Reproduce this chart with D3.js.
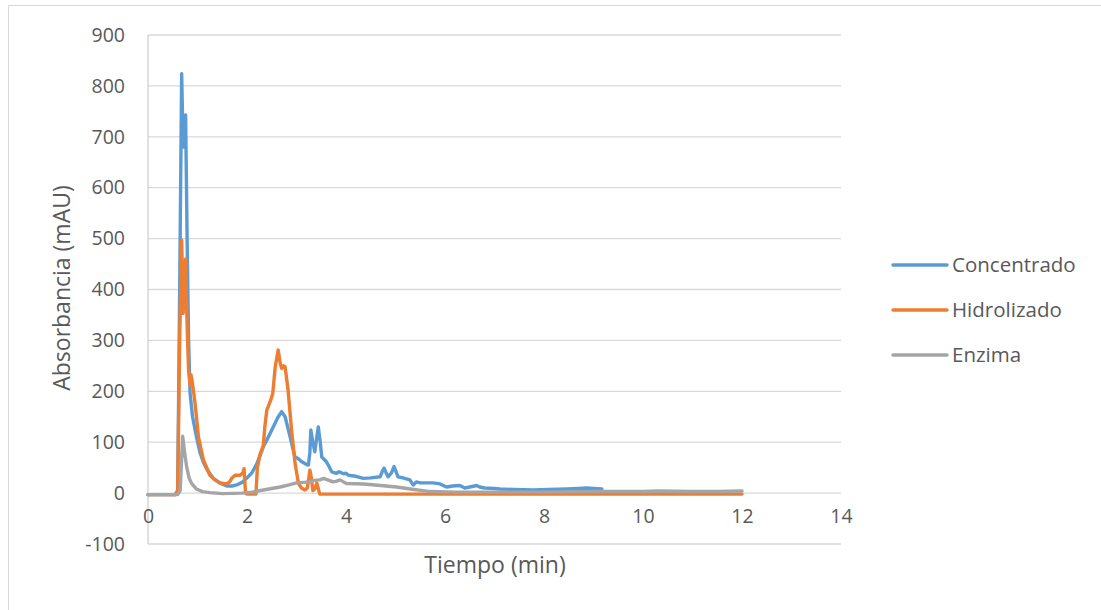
<!DOCTYPE html>
<html>
<head>
<meta charset="utf-8">
<script src="https://cdn.jsdelivr.net/npm/d3@7"></script>
<style>
  body { margin: 0; background: #fff; }
  text { font-family: "Open Sans", "Liberation Sans", sans-serif; fill: #595959; }
</style>
</head>
<body>
<svg id="chart" width="1101" height="610"></svg>
<script>
// series names as in the legend
var seriesNames = ["Concentrado", "Hidrolizado", "Enzima"];
var seriesColors = ["#5b9bd5", "#ed7d31", "#a5a5a5"];

// [tiempo (min), absorbancia (mAU)]
var concentrado = [
  [0, -3], [0.55, -3], [0.6, 5], [0.64, 400], [0.68, 824], [0.71, 680], [0.74, 720], [0.76, 743],
  [0.79, 500], [0.82, 300], [0.85, 196], [0.9, 150], [0.98, 110], [1.05, 80], [1.12, 60], [1.2, 45],
  [1.32, 29], [1.45, 20], [1.59, 14], [1.7, 14], [1.79, 16], [1.9, 21], [1.99, 29], [2.1, 40],
  [2.2, 58], [2.33, 91], [2.43, 110], [2.53, 130], [2.62, 148], [2.7, 160], [2.77, 150], [2.82, 130],
  [2.87, 111], [2.92, 90], [2.97, 71], [3.03, 68], [3.1, 62], [3.17, 58], [3.24, 55], [3.27, 80],
  [3.29, 124], [3.33, 100], [3.37, 81], [3.41, 110], [3.44, 130], [3.48, 100], [3.51, 71], [3.56, 66],
  [3.6, 62], [3.66, 52], [3.71, 42], [3.76, 40], [3.81, 39], [3.86, 42], [3.95, 38], [4.0, 39],
  [4.05, 35], [4.2, 33], [4.35, 29], [4.5, 30], [4.69, 32], [4.74, 44], [4.77, 49], [4.81, 40],
  [4.85, 32], [4.92, 40], [4.97, 52], [5.0, 45], [5.05, 32], [5.15, 30], [5.29, 26], [5.33, 20],
  [5.36, 16], [5.42, 22], [5.5, 20], [5.6, 20], [5.76, 20], [5.9, 18], [6.03, 12], [6.15, 14],
  [6.3, 15], [6.4, 10], [6.5, 12], [6.64, 15], [6.7, 12], [6.8, 10], [7.0, 9], [7.11, 8],
  [7.4, 7], [7.78, 6], [8.1, 7], [8.46, 8], [8.7, 9], [8.86, 10], [9.0, 9], [9.17, 8]
];
var hidrolizado = [
  [0, -3], [0.55, -3], [0.6, 5], [0.64, 300], [0.68, 497], [0.71, 353], [0.74, 420], [0.76, 460],
  [0.79, 330], [0.82, 240], [0.85, 212], [0.87, 232], [0.9, 215], [0.95, 177], [1.02, 110], [1.12, 65],
  [1.25, 35], [1.35, 26], [1.45, 20], [1.59, 18], [1.65, 22], [1.69, 29], [1.76, 35], [1.86, 35],
  [1.92, 40], [1.94, 48], [1.97, 0], [2.0, -2], [2.18, -2], [2.21, 50], [2.26, 75], [2.33, 94],
  [2.36, 130], [2.4, 163], [2.47, 180], [2.52, 195], [2.57, 248], [2.63, 281], [2.67, 255], [2.7, 245],
  [2.74, 250], [2.77, 248], [2.8, 225], [2.83, 202], [2.9, 124], [2.97, 59], [3.04, 19], [3.1, 10],
  [3.17, 6], [3.22, 10], [3.27, 45], [3.3, 30], [3.33, 5], [3.37, 8], [3.41, 20], [3.47, -2],
  [12, -2]
];
var enzima = [
  [0, -3], [0.6, -3], [0.65, 5], [0.7, 112], [0.74, 80], [0.78, 52], [0.83, 30], [0.88, 19],
  [0.98, 8], [1.1, 3], [1.25, 1], [1.5, -1], [1.9, 0], [2.1, 2], [2.33, 6], [2.67, 12],
  [2.85, 16], [3.0, 20], [3.15, 21], [3.27, 22], [3.35, 25], [3.47, 26], [3.55, 29], [3.6, 27],
  [3.74, 22], [3.8, 23], [3.88, 26], [3.95, 22], [4.01, 19], [4.35, 18], [4.7, 15], [5.02, 12],
  [5.3, 8], [5.7, 3], [6.2, 2], [7, 2], [8, 2], [9, 3], [10, 3], [10.3, 4],
  [11, 3], [11.5, 3], [12, 4]
];

var xTicks = [0, 2, 4, 6, 8, 10, 12, 14];
var yTicks = [-100, 0, 100, 200, 300, 400, 500, 600, 700, 800, 900];

var allSeries = [concentrado, hidrolizado, enzima];

var svg = d3.select("#chart");

// outer chart border (runs off the right/bottom edge)
svg.append("rect")
    .attr("x", 8.5).attr("y", 5.5)
    .attr("width", 1110).attr("height", 620)
    .attr("fill", "none")
    .attr("stroke", "#d9d9d9");

var x = d3.scaleLinear().domain([0, 14]).range([148, 841]);
var y = d3.scaleLinear().domain([-100, 900]).range([544, 35]);

// horizontal gridlines
svg.append("g").selectAll("line")
    .data(yTicks)
    .enter().append("line")
    .attr("x1", x(0)).attr("x2", x(14))
    .attr("y1", function(d) { return y(d); })
    .attr("y2", function(d) { return y(d); })
    .attr("stroke", "#d9d9d9")
    .attr("stroke-width", 1.3);

// vertical axis line
svg.append("line")
    .attr("x1", x(0)).attr("x2", x(0))
    .attr("y1", y(900)).attr("y2", y(-100))
    .attr("stroke", "#d0d0d0")
    .attr("stroke-width", 1.3);

// y tick labels (plain hyphen for negatives, like the original)
var yAxis = d3.axisLeft(y).tickValues(yTicks).tickSize(0).tickPadding(23)
    .tickFormat(function(d) { return String(d); });
var gy = svg.append("g").attr("transform", "translate(" + x(0) + ",0)").call(yAxis);
gy.select(".domain").remove();
gy.selectAll("text")
    .style("font-family", "'Open Sans', sans-serif")
    .style("font-size", "19.5px")
    .attr("fill", "#595959");

// x tick labels sit under the zero line
var xAxis = d3.axisBottom(x).tickValues(xTicks).tickSize(0).tickPadding(16)
    .tickFormat(function(d) { return String(d); });
var gx = svg.append("g").attr("transform", "translate(0," + y(0) + ")").call(xAxis);
gx.select(".domain").remove();
gx.selectAll("text")
    .style("font-family", "'Open Sans', sans-serif")
    .style("font-size", "19.5px")
    .attr("fill", "#595959");

// axis titles
svg.append("text")
    .attr("x", 495).attr("y", 573)
    .attr("text-anchor", "middle")
    .style("font-size", "23px")
    .text("Tiempo (min)");

svg.append("text")
    .attr("transform", "translate(70,288) rotate(-90)")
    .attr("text-anchor", "middle")
    .style("font-size", "23px")
    .text("Absorbancia (mAU)");

// series lines
var line = d3.line()
    .x(function(d) { return x(d[0]); })
    .y(function(d) { return y(d[1]); });

svg.append("g").selectAll("path")
    .data(allSeries)
    .enter().append("path")
    .attr("d", line)
    .attr("fill", "none")
    .attr("stroke", function(d, i) { return seriesColors[i]; })
    .attr("stroke-width", 3.4)
    .attr("stroke-linejoin", "round")
    .attr("stroke-linecap", "round");

// legend
var legend = svg.append("g").selectAll("g")
    .data(seriesNames)
    .enter().append("g")
    .attr("transform", function(d, i) { return "translate(893," + (265 + i * 45) + ")"; });

legend.append("line")
    .attr("x1", 0).attr("x2", 54)
    .attr("stroke", function(d, i) { return seriesColors[i]; })
    .attr("stroke-width", 3.4)
    .attr("stroke-linecap", "round");

legend.append("text")
    .attr("x", 59).attr("dy", "0.35em")
    .style("font-size", "20.5px")
    .text(function(d) { return d; });
</script>
</body>
</html>
